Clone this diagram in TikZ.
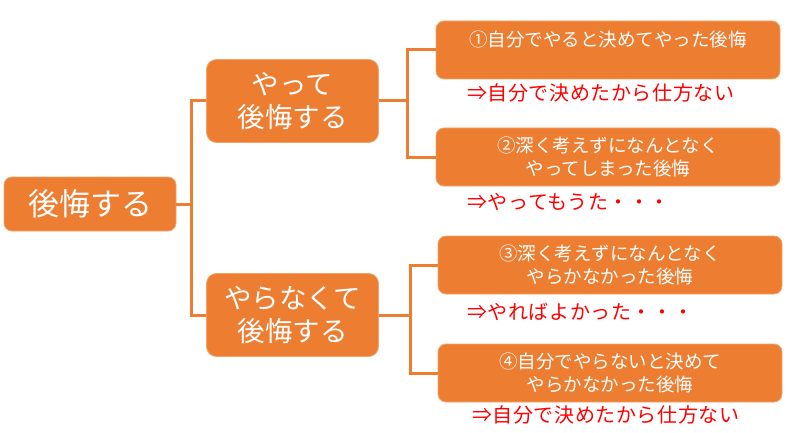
\documentclass[tikz,border=0pt]{standalone}
\usepackage{fontspec}
\setmainfont{Noto Sans CJK JP}
\newfontfamily\notefont[LetterSpace=3]{Noto Sans CJK JP}
\definecolor{org}{HTML}{ED7D31}
\definecolor{orgedge}{HTML}{F4A36A}
\definecolor{redtxt}{HTML}{FF0000}
\begin{document}
\begin{tikzpicture}[x=1pt,y=-1pt,
  obox/.style={rectangle, rounded corners=8pt, fill=org, draw=orgedge, line width=0.8pt,
    text=white, align=center, inner sep=0pt},
  rootbox/.style={obox, minimum width=172pt, minimum height=54pt, font=\fontsize{31}{34}\selectfont},
  midbox/.style={obox, rounded corners=10pt, minimum width=172pt, minimum height=83pt, font=\fontsize{27.5}{33}\selectfont},
  leafbox/.style={obox, minimum width=344pt, minimum height=58pt, font=\fontsize{18.5}{23}\selectfont},
  note/.style={anchor=west, text=redtxt, inner sep=0pt, font=\notefont\fontsize{20}{22}\selectfont},
  conn/.style={draw=org, line width=3pt}
]
\useasboundingbox (0,0) rectangle (800,433);
\node[rootbox] (root) at (90,204) {後悔する};
\node[midbox] (mid1) at (292.5,101) {やって\\後悔する};
\node[midbox] (mid2) at (292.5,315) {やらなくて\\後悔する};
\node[leafbox] (b1) at (608,50) {①自分でやると決めてやった後悔\\\mbox{}};
\node[leafbox] (b2) at (608,157) {②深く考えずになんとなく\\やってしまった後悔};
\node[leafbox] (b3) at (610,265) {③深く考えずになんとなく\\やらかなかった後悔};
\node[leafbox] (b4) at (610,373) {④自分でやらないと決めて\\やらかなかった後悔};
\node[note] (n1) at (467,93) {⇒自分で決めたから仕方ない};
\node[note] (n2) at (467,202) {⇒やってもうた・・・};
\node[note] (n3) at (467,312) {⇒やればよかった・・・};
\node[note] (n4) at (472,415) {⇒自分で決めたから仕方ない};
\coordinate (j1) at (191,204);
\coordinate (j2) at (407,101);
\coordinate (j3) at (410,315);
\draw[conn] (root.east) -- (root.east -| j1);
\draw[conn] (mid1.west) -- (mid1.west -| j1) -- (mid2.west -| j1) -- (mid2.west);
\draw[conn] (mid1.east) -- (mid1.east -| j2);
\draw[conn] (b1.west) -- (b1.west -| j2) -- (b2.west -| j2) -- (b2.west);
\draw[conn] (mid2.east) -- (mid2.east -| j3);
\draw[conn] (b3.west) -- (b3.west -| j3) -- (b4.west -| j3) -- (b4.west);
\end{tikzpicture}
\end{document}
